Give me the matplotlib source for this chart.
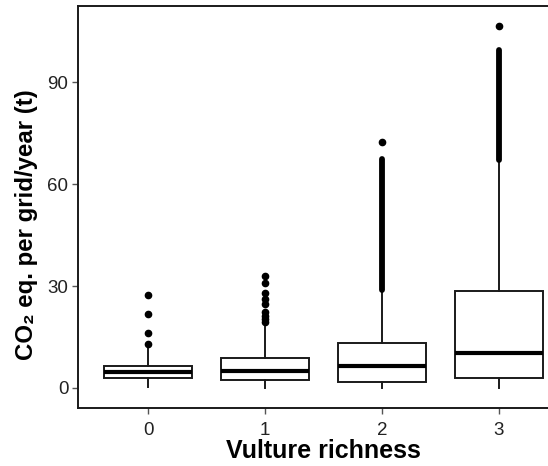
import matplotlib
matplotlib.use("Agg")
import matplotlib.pyplot as plt

plt.rcParams['font.family'] = ['Liberation Sans', 'DejaVu Sans']

# Summary statistics per vulture richness class
categories = ["0", "1", "2", "3"]
q1 = [2.85, 2.35, 1.8, 2.9]
medians = [4.7, 5.1, 6.6, 10.4]
q3 = [6.56, 8.8, 13.1, 28.6]
whisker_low = [0.2, 0.0, 0.0, 0.0]
whisker_high = [12.2, 18.0, 29.8, 67.0]

# Individual outliers
fliers = [
    [12.9, 16.1, 21.7, 27.4],
    [19.4, 20.3, 21.3, 22.3, 24.6, 26.3, 28.0, 31.0, 32.9],
    [72.4],
    [106.6],
]
# Stretches where outliers are packed into a continuous column (low, high)
dense_fliers = [None, None, (28.8, 67.3), (67.1, 99.4)]

fig = plt.figure(figsize=(5.48, 4.66), dpi=100)
ax = fig.add_axes([78 / 548, 58 / 466, 491 / 548, 402 / 466])

positions = list(range(len(categories)))
stats = []
for i in positions:
    stats.append(dict(med=medians[i], q1=q1[i], q3=q3[i],
                      whislo=whisker_low[i], whishi=whisker_high[i],
                      fliers=fliers[i]))

ax.bxp(stats, positions=positions, widths=0.75, showcaps=False,
       patch_artist=True,
       boxprops=dict(facecolor="white", edgecolor="#1a1a1a", linewidth=1.4),
       whiskerprops=dict(color="#1a1a1a", linewidth=1.4),
       medianprops=dict(color="black", linewidth=3.0, solid_capstyle="butt"),
       flierprops=dict(marker="o", markersize=4.5, markerfacecolor="black",
                       markeredgecolor="black", linestyle="none"))

for x, rng in zip(positions, dense_fliers):
    if rng is not None:
        ax.plot([x, x], [rng[0], rng[1]], color="black", linewidth=4.2,
                solid_capstyle="round", zorder=3)

ax.set_xlim(-0.6, 3.6)
ax.set_ylim(-5.9, 112.4)
ax.set_xticks(positions)
ax.set_xticklabels(categories)
ax.set_yticks([0, 30, 60, 90])

for side in ["left", "bottom", "top", "right"]:
    ax.spines[side].set_linewidth(1.4)
    ax.spines[side].set_color("#1a1a1a")

ax.tick_params(axis="both", length=4, width=1.0, color="#555555",
               labelsize=13.5, labelcolor="#222222")
ax.tick_params(axis="x", pad=6)
ax.tick_params(axis="y", pad=3)

ax.set_xlabel("Vulture richness", fontsize=18, fontweight="bold", labelpad=0)
ax.set_ylabel("CO\u2082 eq. per grid/year (t)", fontsize=17.3,
              fontweight="bold")
ax.yaxis.set_label_coords(-0.0815, 0.455)

fig.savefig("out.png", dpi=100)
